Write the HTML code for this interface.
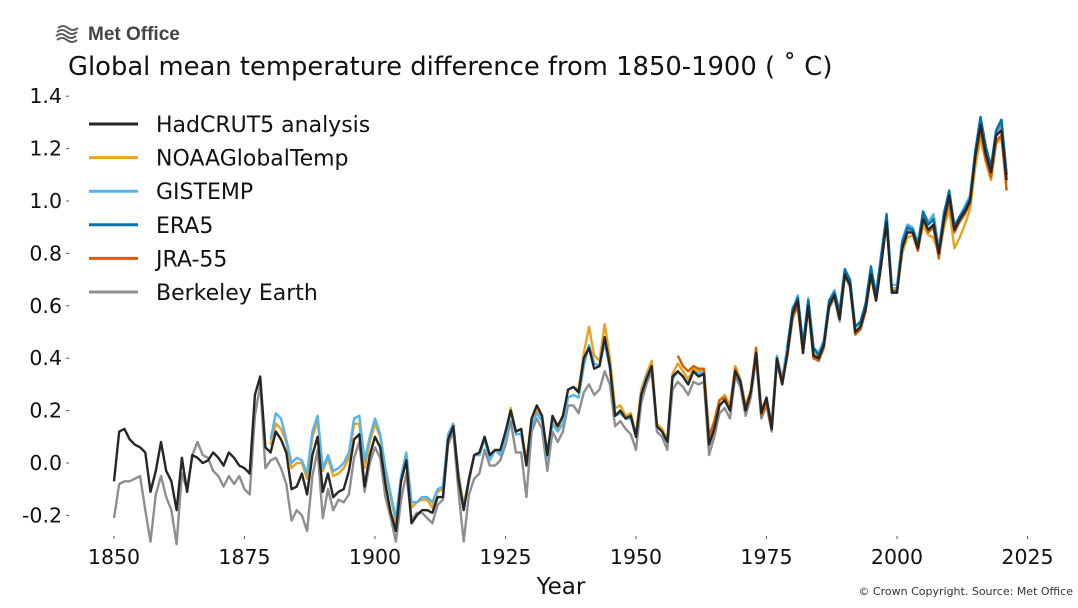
<!DOCTYPE html>
<html><head><meta charset="utf-8"><style>
body{margin:0;background:#fff;}
svg{display:block;font-family:"DejaVu Sans","Liberation Sans",sans-serif;}
</style></head><body>
<svg id="chart" width="1078" height="608" viewBox="0 0 1078 608">
<g>
<path d="M58 28 q5 -4 10 0 t10 0 M57 32 q5 -4 10 0 t10 0 M56 36 q5 -4 10 0 t10 0 M57 40 q5 -4 10 0 t10 0" stroke="#555" stroke-width="1.8" fill="none"/>
<text x="88" y="40" font-size="19" font-weight="bold" fill="#444" font-family="Liberation Sans, sans-serif">Met Office</text>
</g>
<text x="68" y="75" font-size="25.8" fill="#111">Global mean temperature difference from 1850-1900 ( ˚ C)</text>
<g id="yaxis"></g>
<g id="xaxis"></g>
<g id="series"></g>
<g id="legend"></g>
<text x="561" y="594" font-size="23" text-anchor="middle" fill="#111">Year</text>
<text x="1073" y="595" font-size="11" text-anchor="end" fill="#333">© Crown Copyright. Source: Met Office</text>
</svg>
<script>
const yTicks=[-0.2,0.0,0.2,0.4,0.6,0.8,1.0,1.2,1.4];
const xTicks=[1850,1875,1900,1925,1950,1975,2000,2025];
const hadcrut5Start=1850;
const hadcrut5=[-0.07,0.12,0.13,0.09,0.07,0.06,0.04,-0.11,-0.03,0.08,
-0.03,-0.07,-0.18,0.02,-0.11,0.03,0.02,0.00,0.01,0.04,
0.02,-0.01,0.04,0.02,-0.01,-0.02,-0.04,0.26,0.33,0.06,
0.04,0.12,0.09,0.04,-0.10,-0.09,-0.04,-0.12,0.03,0.10,
-0.11,-0.04,-0.13,-0.11,-0.10,-0.03,0.09,0.11,-0.09,0.03,
0.10,0.06,-0.08,-0.19,-0.26,-0.07,0.01,-0.23,-0.20,-0.18,
-0.18,-0.19,-0.13,-0.13,0.09,0.14,-0.06,-0.18,-0.06,0.03,
0.04,0.10,0.03,0.05,0.05,0.12,0.20,0.12,0.13,-0.01,
0.17,0.22,0.18,0.03,0.18,0.14,0.18,0.28,0.29,0.27,
0.40,0.44,0.36,0.37,0.48,0.37,0.18,0.20,0.17,0.18,
0.10,0.26,0.32,0.37,0.14,0.12,0.08,0.33,0.35,0.33,
0.30,0.35,0.33,0.34,0.07,0.13,0.22,0.24,0.20,0.35,
0.31,0.20,0.27,0.42,0.19,0.25,0.13,0.40,0.30,0.42,
0.57,0.62,0.42,0.60,0.41,0.40,0.45,0.60,0.64,0.55,
0.72,0.68,0.50,0.52,0.59,0.72,0.62,0.76,0.92,0.65,
0.65,0.82,0.88,0.88,0.82,0.93,0.89,0.91,0.80,0.93,
1.02,0.89,0.93,0.96,1.00,1.17,1.29,1.18,1.11,1.25,
1.27,1.08];
const berkeleyStart=1850;
const berkeley=[-0.21,-0.08,-0.07,-0.07,-0.06,-0.05,-0.18,-0.30,-0.12,-0.05,
-0.13,-0.18,-0.31,-0.04,-0.10,0.03,0.08,0.03,0.02,-0.03,
-0.05,-0.09,-0.05,-0.08,-0.05,-0.10,-0.12,0.18,0.30,-0.02,
0.01,0.02,-0.02,-0.08,-0.22,-0.18,-0.20,-0.26,-0.05,0.05,
-0.21,-0.10,-0.18,-0.14,-0.15,-0.12,0.02,0.08,-0.11,0.00,
0.06,0.02,-0.13,-0.21,-0.30,-0.14,-0.04,-0.22,-0.19,-0.19,
-0.21,-0.23,-0.16,-0.14,0.07,0.12,-0.11,-0.30,-0.12,-0.06,
-0.04,0.05,-0.01,-0.01,0.01,0.07,0.16,0.04,0.04,-0.13,
0.12,0.17,0.13,-0.03,0.12,0.08,0.12,0.22,0.22,0.19,
0.27,0.30,0.26,0.28,0.35,0.30,0.14,0.16,0.13,0.11,
0.05,0.23,0.30,0.35,0.12,0.10,0.05,0.28,0.31,0.29,
0.26,0.31,0.30,0.31,0.03,0.10,0.19,0.21,0.17,0.33,
0.29,0.18,0.25,0.40,0.17,0.22,0.12,0.38,0.30,0.41,
0.55,0.61,0.42,0.60,0.40,0.39,0.45,0.59,0.63,0.54,
0.72,0.67,0.50,0.52,0.60,0.74,0.63,0.77,0.92,0.66,
0.67,0.83,0.89,0.89,0.83,0.95,0.91,0.94,0.81,0.94,
1.03,0.90,0.94,0.98,1.02,1.18,1.29,1.20,1.12,1.26,
1.29,1.10];
const noaaStart=1880;
const noaa=[0.07,0.15,0.13,0.08,-0.02,0.00,0.00,-0.06,0.10,0.16,
-0.03,0.02,-0.05,-0.04,-0.02,0.02,0.15,0.15,-0.02,0.08,
0.15,0.10,-0.03,-0.13,-0.23,-0.07,0.01,-0.17,-0.15,-0.14,
-0.14,-0.17,-0.11,-0.10,0.10,0.15,-0.04,-0.16,-0.06,0.03,
0.03,0.10,0.03,0.05,0.04,0.11,0.21,0.12,0.13,0.01,
0.17,0.20,0.18,0.04,0.17,0.13,0.18,0.28,0.29,0.28,
0.42,0.52,0.41,0.39,0.53,0.40,0.21,0.22,0.18,0.19,
0.11,0.28,0.34,0.39,0.15,0.13,0.09,0.34,0.38,0.35,
0.32,0.36,0.35,0.36,0.10,0.16,0.24,0.26,0.22,0.37,
0.32,0.22,0.28,0.43,0.21,0.24,0.15,0.40,0.32,0.43,
0.56,0.59,0.43,0.61,0.42,0.40,0.46,0.61,0.63,0.55,
0.71,0.69,0.51,0.51,0.59,0.71,0.62,0.78,0.91,0.67,
0.66,0.80,0.86,0.87,0.81,0.91,0.87,0.86,0.80,0.90,
0.97,0.82,0.86,0.91,0.97,1.13,1.24,1.15,1.08,1.22,
1.24,1.07];
const gistempStart=1880;
const gistemp=[0.09,0.19,0.17,0.09,0.00,0.02,0.01,-0.04,0.12,0.18,
-0.02,0.03,-0.03,-0.02,0.00,0.04,0.17,0.18,0.01,0.10,
0.17,0.11,-0.02,-0.12,-0.21,-0.05,0.04,-0.15,-0.15,-0.13,
-0.13,-0.15,-0.10,-0.09,0.11,0.15,-0.05,-0.17,-0.07,0.03,
0.03,0.09,0.01,0.05,0.03,0.09,0.20,0.11,0.11,-0.01,
0.14,0.19,0.16,0.02,0.15,0.12,0.15,0.25,0.26,0.25,
0.37,0.45,0.38,0.37,0.46,0.36,0.18,0.19,0.17,0.17,
0.10,0.26,0.33,0.37,0.14,0.12,0.08,0.32,0.35,0.33,
0.30,0.35,0.34,0.35,0.09,0.14,0.22,0.24,0.20,0.35,
0.32,0.21,0.27,0.43,0.20,0.24,0.15,0.41,0.32,0.45,
0.58,0.64,0.45,0.63,0.44,0.42,0.47,0.62,0.66,0.57,
0.73,0.70,0.52,0.53,0.61,0.74,0.65,0.80,0.94,0.68,
0.68,0.85,0.91,0.90,0.84,0.96,0.92,0.95,0.82,0.96,
1.03,0.91,0.94,0.98,1.02,1.19,1.32,1.21,1.13,1.27,
1.31,1.10];
const jra55Start=1958;
const jra55=[0.41,0.37,
0.35,0.37,0.36,0.36,0.10,0.16,0.24,0.25,0.20,0.36,
0.31,0.21,0.27,0.44,0.18,0.23,0.13,0.39,0.32,0.41,
0.56,0.60,0.42,0.60,0.40,0.39,0.44,0.60,0.64,0.55,
0.71,0.68,0.49,0.51,0.58,0.72,0.62,0.76,0.93,0.65,
0.66,0.82,0.88,0.88,0.81,0.94,0.88,0.90,0.78,0.92,
1.00,0.88,0.92,0.95,0.99,1.17,1.27,1.16,1.09,1.23,
1.25,1.04];
const era5Start=1979;
const era5=[0.44,
0.59,0.63,0.45,0.62,0.44,0.41,0.46,0.62,0.65,0.58,
0.74,0.70,0.52,0.54,0.61,0.75,0.64,0.79,0.95,0.66,
0.65,0.84,0.90,0.89,0.83,0.96,0.91,0.93,0.80,0.95,
1.04,0.90,0.94,0.97,1.01,1.19,1.32,1.21,1.13,1.27,
1.31,1.10];

const NS="http://www.w3.org/2000/svg";
function xs(yr){return 114+(yr-1850)*5.22;}
function ys(v){return 463-v*262;}
function mk(tag,attrs,parent){const e=document.createElementNS(NS,tag);for(const k in attrs)e.setAttribute(k,attrs[k]);parent.appendChild(e);return e;}

const ya=document.getElementById('yaxis');
yTicks.forEach(t=>{
  const l=mk('line',{x1:66,x2:69,y1:ys(t),y2:ys(t),stroke:'#555','stroke-width':1},ya);
  
  
  const tx=mk('text',{x:62,y:ys(t)+7,'font-size':20.5,'text-anchor':'end',fill:'#111'},ya);
  tx.textContent=t.toFixed(1);
  
  
});
const xa=document.getElementById('xaxis');
xTicks.forEach(t=>{
  const l=mk('line',{x1:xs(t),x2:xs(t),y1:536,y2:539,stroke:'#555','stroke-width':1},xa);
  
  
  const tx=mk('text',{x:xs(t),y:564,'font-size':20.5,'text-anchor':'middle',fill:'#111'},xa);
  tx.textContent=t;
  
  
});

const sg=document.getElementById('series');
function drawLine(vals,start,color,name){
  const pts=vals.map((v,i)=>xs(start+i).toFixed(1)+','+ys(v).toFixed(1)).join(' ');
  const p=mk('polyline',{points:pts,fill:'none',stroke:color,'stroke-width':2.4,'stroke-linejoin':'round'},sg);
  
  
}
drawLine(berkeley,berkeleyStart,'#8e8e8e','berkeley-earth-line');
drawLine(noaa,noaaStart,'#E8A21C','noaa-line');
drawLine(gistemp,gistempStart,'#56B4E9','gistemp-line');
drawLine(jra55,jra55Start,'#D55E00','jra55-line');
drawLine(era5,era5Start,'#0072B2','era5-line');
drawLine(hadcrut5,hadcrut5Start,'#262626','hadcrut5-line');

const lg=document.getElementById('legend');
const legendNames=['HadCRUT5 analysis','NOAAGlobalTemp','GISTEMP','ERA5','JRA-55','Berkeley Earth'];
const legendColors=['#262626','#E8A21C','#56B4E9','#0072B2','#D55E00','#8e8e8e'];
legendNames.forEach((n,i)=>{
  const y=124+i*33.6;
  const g=mk('g',{},lg);
  
  
  mk('line',{x1:89,x2:138,y1:y,y2:y,stroke:legendColors[i],'stroke-width':3},g);
  const t=mk('text',{x:156,y:y+8,'font-size':22,fill:'#111'},g);
  t.textContent=n;
});
</script>
</body></html>
